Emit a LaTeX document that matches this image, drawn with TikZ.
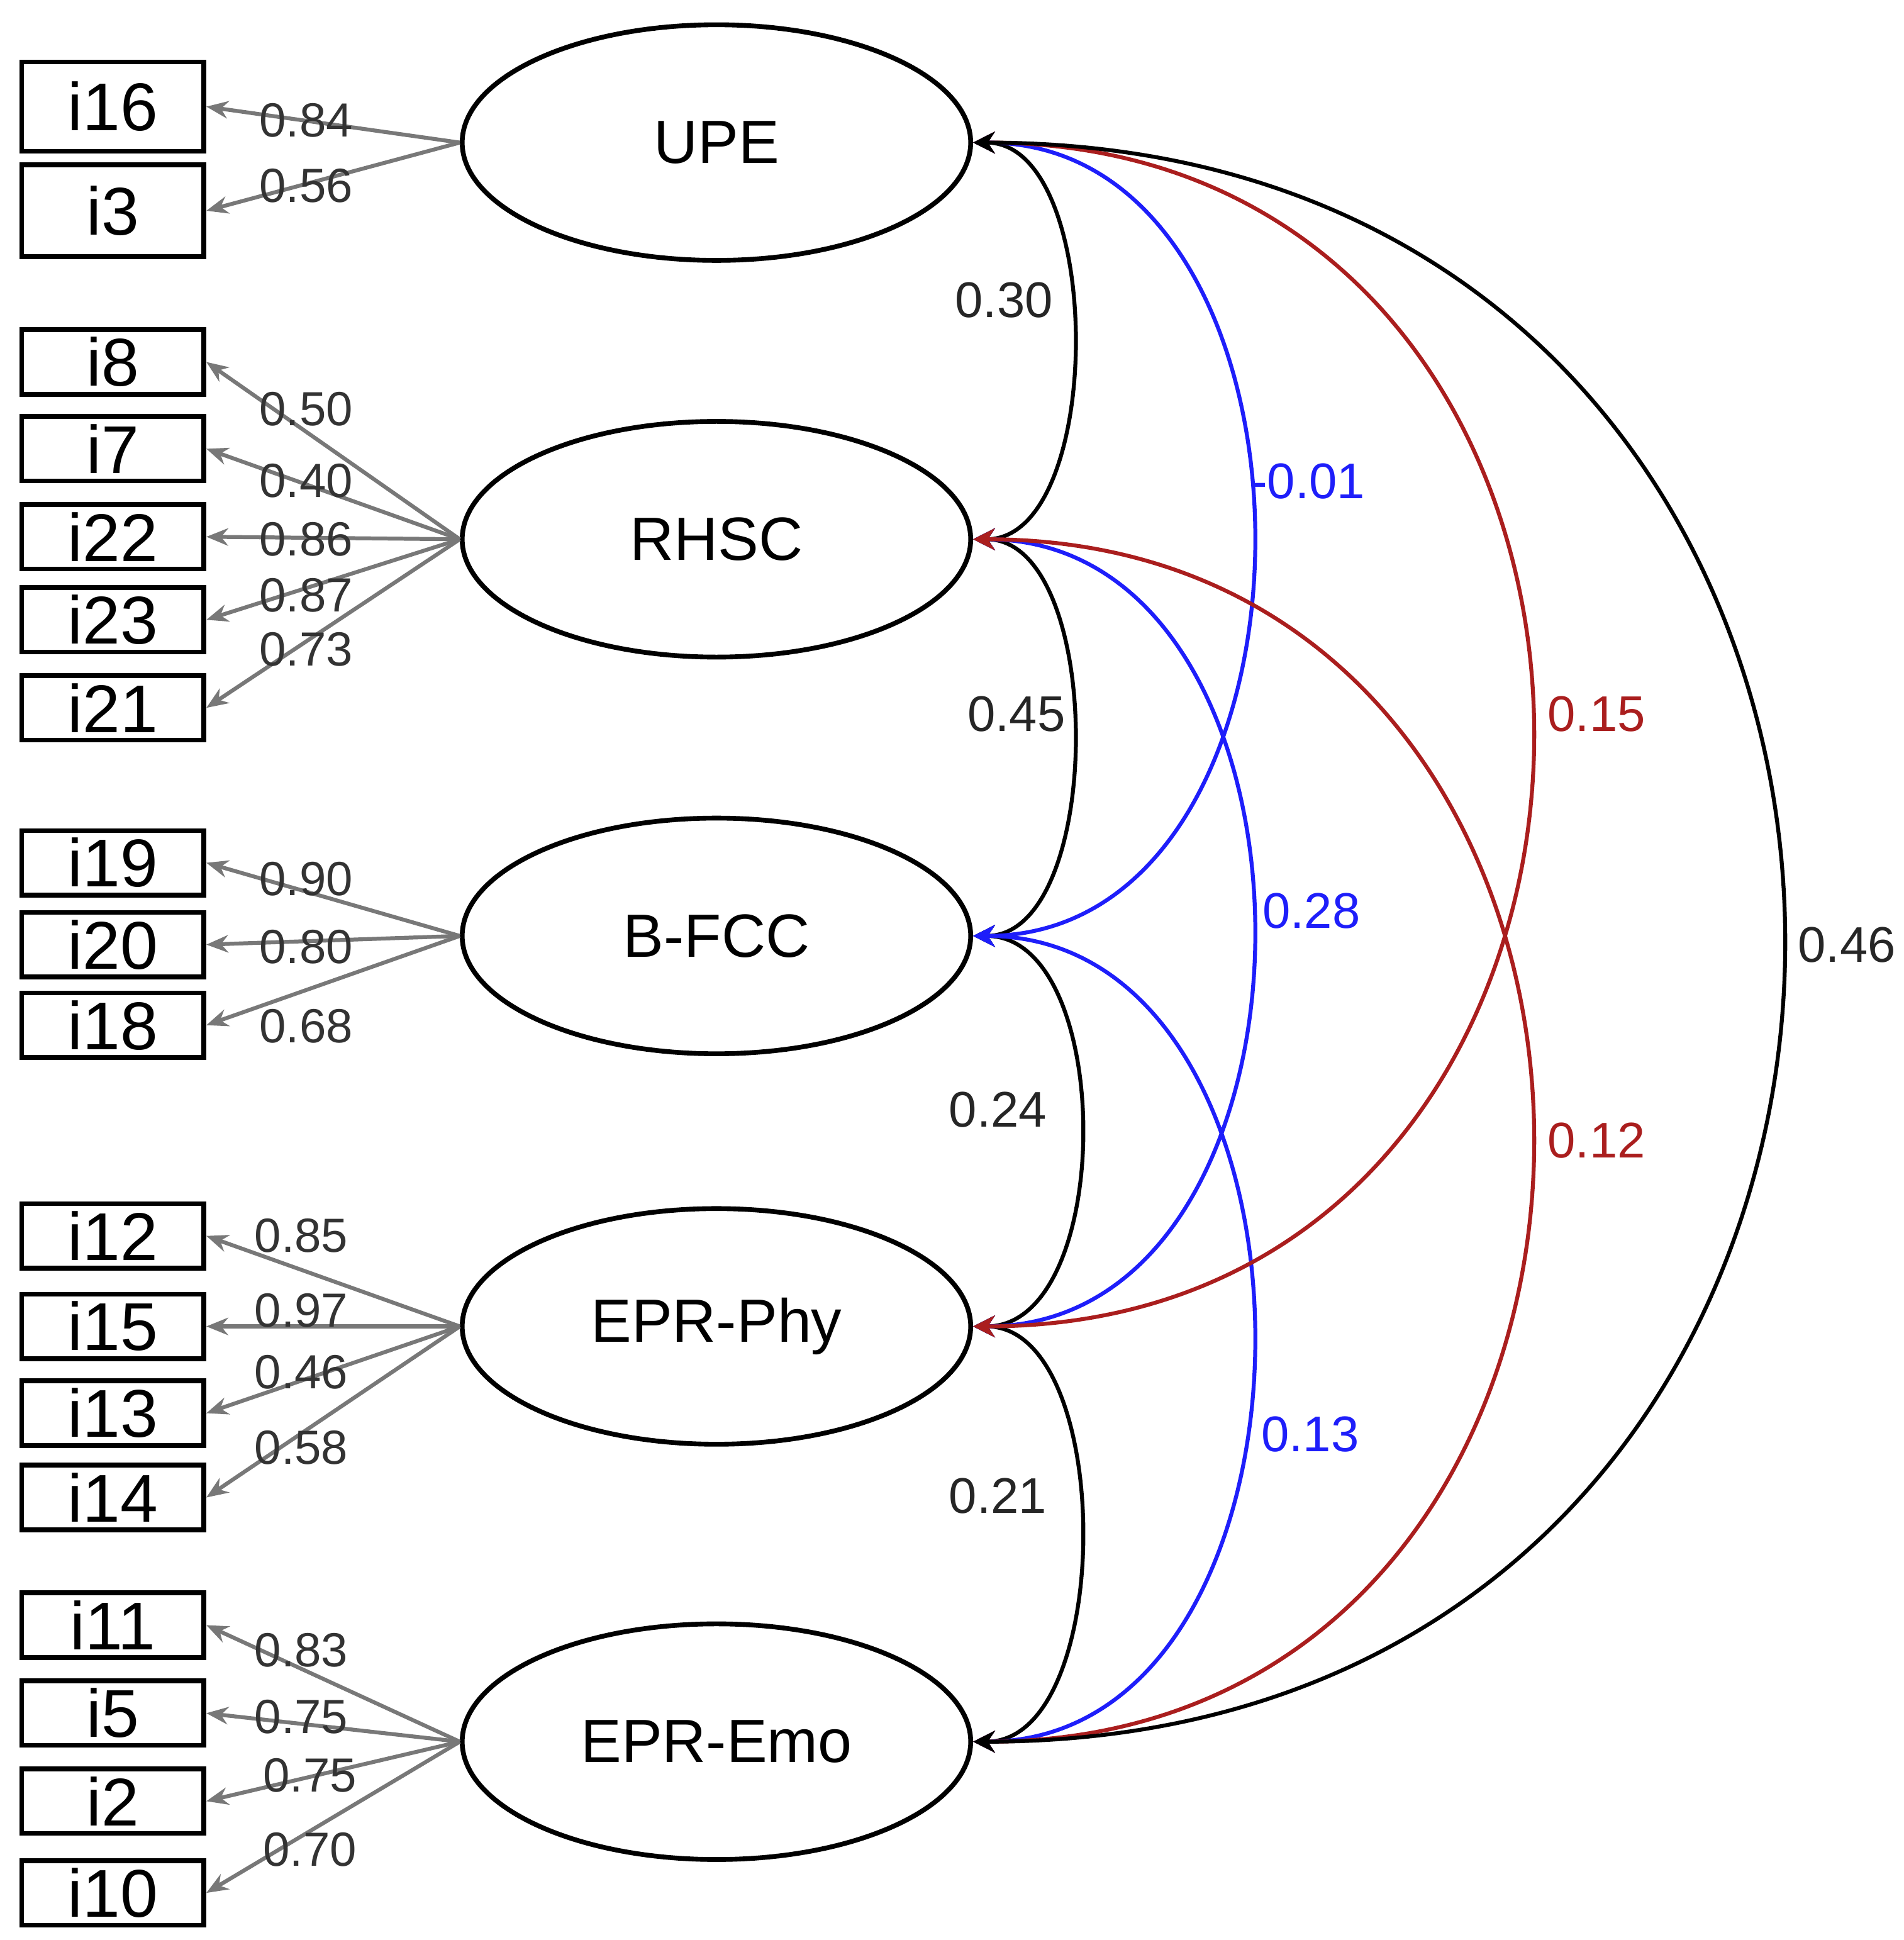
\documentclass[tikz,border=0pt]{standalone}
\usepackage{fontspec}
\setmainfont{Liberation Sans}
\usetikzlibrary{shapes.geometric,calc,arrows.meta}
\definecolor{cblue}{RGB}{30,30,250}
\definecolor{cred}{RGB}{170,30,30}
\definecolor{cgray}{RGB}{120,120,120}
\begin{document}
\begin{tikzpicture}[x=0.01cm,y=-0.01cm,
 box/.style={draw,line width=1.1pt,minimum width=1.47cm,minimum height=0.52cm,inner sep=0,font=\fontsize{15.5}{15.5}\selectfont},
 lat/.style={draw,ellipse,line width=1.1pt,minimum width=4.1cm,minimum height=1.9cm,inner sep=0,font=\fontsize{14}{14}\selectfont},
 load/.style={cgray,line width=0.9pt,-{Stealth[length=5pt,width=4pt]}},
 cov/.style={line width=0.9pt,{Stealth[length=5pt,width=5pt]}-{Stealth[length=5pt,width=5pt]}},
 ll/.style={font=\fontsize{11}{11}\selectfont,text=black!80},
 cl/.style={font=\fontsize{11.5}{11.5}\selectfont}]
\useasboundingbox (0,0) rectangle (1536,1565);
\node[lat] (UPE) at (578,115) {UPE};
\node[lat] (RHSC) at (578,435) {RHSC};
\node[lat] (BFCC) at (578,755) {B-FCC};
\node[lat] (PHY) at (578,1070) {EPR-Phy};
\node[lat] (EMO) at (578,1405) {EPR-Emo};
\foreach \n/\y/\l/\ly/\lx/\f/\h in {i16/86/0.84/97/247/UPE/0.72, i3/170/0.56/150/247/UPE/0.74,
 i8/292/0.50/330/247/RHSC/0.52, i7/362/0.40/388/247/RHSC/0.52, i22/433/0.86/435/247/RHSC/0.52, i23/500/0.87/480/247/RHSC/0.52, i21/571/0.73/524/247/RHSC/0.52,
 i19/696/0.90/709/247/BFCC/0.52, i20/762/0.80/764/247/BFCC/0.52, i18/827/0.68/828/247/BFCC/0.52,
 i12/997/0.85/997/243/PHY/0.52, i15/1070/0.97/1057/243/PHY/0.52, i13/1140/0.46/1107/243/PHY/0.52, i14/1208/0.58/1168/243/PHY/0.52,
 i11/1311/0.83/1331/243/EMO/0.52, i5/1382/0.75/1385/243/EMO/0.52, i2/1453/0.75/1432/250/EMO/0.52, i10/1527/0.70/1492/250/EMO/0.52}{
 \node[box,minimum height=\h cm] (\n) at (91,\y) {\n};
 \draw[load] (\f.west) -- (\n.east);
 \node[ll] at (\lx,\ly) {\l};
}
\newcommand{\covar}[4]{\draw[cov,#4] (#1.east) .. controls ($(#1.east)+(#3,0)$) and ($(#2.east)+(#3,0)$) .. (#2.east);}
\covar{UPE}{RHSC}{107}{black}
\covar{RHSC}{BFCC}{107}{black}
\covar{BFCC}{PHY}{115}{black}
\covar{PHY}{EMO}{115}{black}
\covar{UPE}{BFCC}{300}{cblue}
\covar{RHSC}{PHY}{300}{cblue}
\covar{BFCC}{EMO}{300}{cblue}
\covar{UPE}{PHY}{600}{cred}
\covar{RHSC}{EMO}{600}{cred}
\covar{UPE}{EMO}{870}{black}
\node[cl,text=black!85] at (810,242) {0.30};
\node[cl,text=black!85] at (820,576) {0.45};
\node[cl,text=black!85] at (805,895) {0.24};
\node[cl,text=black!85] at (805,1207) {0.21};
\node[cl,text=cblue] at (1055,388) {-0.01};
\node[cl,text=cblue] at (1058,735) {0.28};
\node[cl,text=cblue] at (1057,1157) {0.13};
\node[cl,text=cred] at (1288,576) {0.15};
\node[cl,text=cred] at (1288,920) {0.12};
\node[cl,text=black!85] at (1490,762) {0.46};
\end{tikzpicture}
\end{document}
